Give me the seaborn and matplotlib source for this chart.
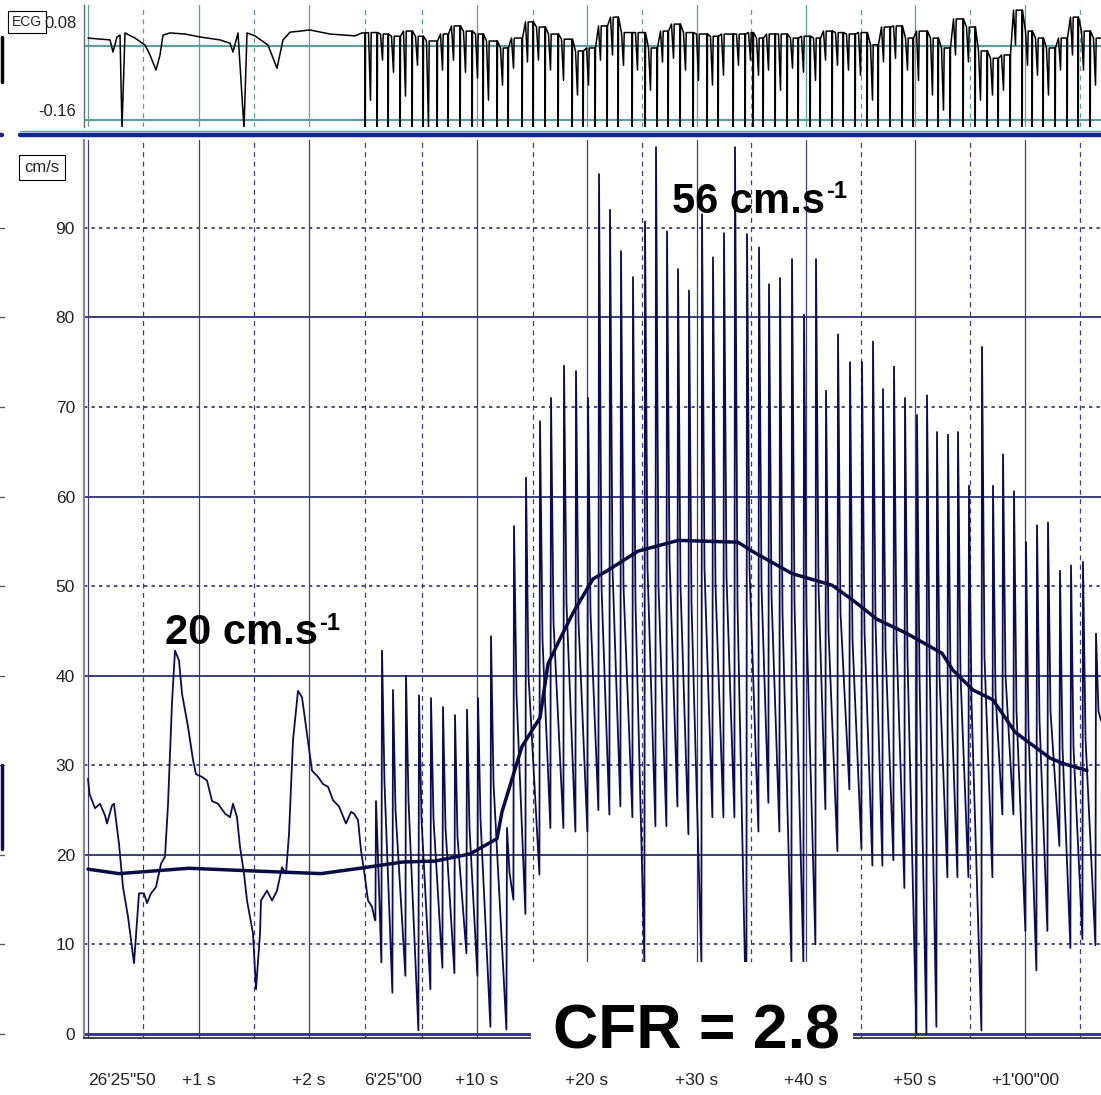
"""
Coronary flow velocity recording: ECG strip + Doppler velocity trace with CFR.
"""
import pandas as pd
import seaborn as sns
import matplotlib.pyplot as plt
from matplotlib.lines import Line2D
from matplotlib.patches import Rectangle
import matplotlib.transforms as mtransforms

# ---------------- data ----------------
# time axis in samples from the first grid line (one division ~ 55 samples)
solid_grid_t = [0, 111, 221, 389, 499, 609, 718, 827, 937]
dashed_grid_t = [55, 166, 277, 334, 445, 554, 663, 773, 882, 992]
label_t = [0, 111, 221, 334, 389, 499, 609, 718, 827, 937]
label_text = ["26'25\"50", "+1 s", "+2 s", "6'25\"00", "+10 s",
              "+20 s", "+30 s", "+40 s", "+50 s", "+1'00\"00"]
label_align = ["left", "center", "center", "right", "center",
               "center", "center", "center", "center", "center"]

# velocity grid (cm/s)
solid_levels = [20, 40, 60, 80]
dotted_levels = [10, 30, 50, 70, 90]

# baseline (slow sweep) Doppler velocity, cm/s
slow_t = [0, 1.5, 7, 12, 17, 19, 24, 26, 31, 35, 40, 46, 51, 56, 59, 63, 68, 73,
          77, 80, 84, 87, 91, 94, 100, 105, 108, 114, 119, 124, 130, 137, 142,
          145, 149, 152, 156, 159, 165, 168, 172, 173, 179, 184, 189, 194, 198,
          201, 205, 210, 214, 219, 224, 230, 235, 240, 245, 251, 258, 263, 266,
          270, 273, 277, 280, 284, 287]
slow_v = [28.5, 26.8, 25.2, 25.7, 24.4, 23.5, 25.5, 25.7, 21.2, 16.4, 13.1, 7.9,
          15.7, 15.7, 14.6, 15.7, 16.4, 19.0, 19.8, 25.6, 37.0, 42.8, 41.7, 38.0,
          34.3, 30.6, 29.0, 28.7, 28.3, 26.0, 25.7, 24.6, 24.2, 25.7, 24.2, 20.9,
          17.9, 14.9, 11.2, 5.0, 11.2, 14.9, 16.0, 14.9, 16.0, 18.6, 17.9, 22.3,
          32.8, 38.3, 37.6, 33.5, 29.4, 28.7, 27.9, 27.6, 26.1, 25.4, 23.5, 24.8,
          24.6, 23.9, 20.5, 17.5, 14.9, 14.2, 12.7]

# fast sweep (hyperaemia) - one entry per beat
beat_t = [288, 294, 305, 318, 331, 343, 355, 367, 379, 390, 403, 419, 426, 438,
          452, 463, 476, 488, 500, 511, 522, 533, 545, 557, 568, 579, 590, 601,
          614, 625, 636, 647, 659, 671, 681, 692, 704, 716, 728, 738, 750, 762,
          774, 785, 795, 806, 817, 829, 839, 849, 860, 870, 881, 894, 905, 915,
          926, 938, 949, 960, 972, 983, 995, 1008]
beat_peak = [26, 42.8, 38.4, 40, 37.8, 37.5, 36.5, 35.6, 36.2, 37.5, 44.4, 23,
             56.7, 62.1, 68.4, 71, 74.6, 74, 71, 96, 92, 87.4, 84.5, 90.7, 99,
             89.6, 85.4, 83, 91.5, 86.7, 89.4, 99, 89.3, 87.8, 83.7, 84.4, 86.5,
             80.3, 86.5, 71.8, 78.1, 75, 75, 77.3, 72, 74.5, 71, 69.1, 71.3, 67.2,
             66.9, 67.2, 61.2, 76.7, 61.2, 64.7, 60.6, 54.9, 56.8, 57.1, 51.7,
             52.3, 52.7, 44.7]
beat_shoulder = [18, 28, 25, 26, 24, 24, 23, 22, 23, 24, 28, 18, 38, 40, 44, 46,
                 48, 46, 47, 50, 52, 50, 48, 52, 50, 53, 50, 48, 52, 50, 51, 48,
                 52, 50, 49, 47, 48, 46, 50, 45, 47, 44, 45, 46, 43, 44, 42, 40,
                 42, 40, 40, 40, 37, 42, 38, 40, 36, 34, 35, 36, 32, 32, 33, 36]
beat_trough = [8, 4.6, 6.5, 0.4, 5, 7.4, 6.8, 9, 6.5, 0.8, 0.5, 15, 13.4, 17.8,
               23, 23, 22.6, 22.6, 25, 24.5, 25.4, 24.2, 8, 23.2, 23.2, 25.4,
               22.3, 8, 24.2, 24.2, 24.2, 0, 22.6, 25.8, 22.6, 8, 8, 10, 25.1,
               20.4, 27.3, 20.7, 18.8, 18.8, 19.4, 16.3, 0, 0, 0.8, 17.5, 17.5,
               17.5, 0.4, 17.5, 24.5, 24.5, 11.5, 7.1, 11.5, 21, 9.6, 10.6, 9.9, 35]

# averaged peak velocity (thick trend line)
mean_t = [0, 31, 101, 165, 233, 272, 315, 347, 382, 409, 414, 434, 452, 460, 472,
          485, 505, 519, 550, 590, 650, 664, 704, 744, 764, 789, 819, 854, 865,
          885, 905, 927, 962, 975, 999]
mean_v = [18.4, 17.9, 18.5, 18.2, 17.9, 18.5, 19.2, 19.3, 20.1, 21.8, 24.8, 32.1,
          35.3, 41.3, 44.1, 47.0, 50.8, 51.7, 53.9, 55.1, 54.9, 53.9, 51.4, 50.1,
          48.5, 46.3, 44.7, 42.5, 40.6, 38.4, 37.3, 33.7, 30.8, 30.2, 29.4]

# ECG (mV) - slow sweep
ecg_slow_t = [0, 22, 25, 29, 32, 34, 37, 47, 57, 62, 68, 72, 75, 82, 97, 112, 132,
              142, 145, 150, 156, 159, 167, 180, 189, 195, 202, 222, 242, 267, 274]
ecg_slow_v = [0.036, 0.031, -0.002, 0.039, 0.044, -0.21, 0.050, 0.036, 0.017,
              -0.010, -0.051, -0.010, 0.044, 0.050, 0.047, 0.039, 0.031, 0.022,
              -0.002, 0.050, -0.21, 0.050, 0.042, 0.017, -0.046, 0.031, 0.052,
              0.058, 0.047, 0.042, 0.050]
# ECG fast sweep: QRS times, baseline level and secondary dip of each beat
qrs_t = [277, 289, 300, 312, 324, 335, 349, 360, 372, 384, 395, 409, 420, 434,
         445, 457, 470, 484, 495, 507, 519, 530, 544, 557, 569, 580, 592, 605,
         619, 630, 645, 657, 665, 675, 687, 699, 710, 722, 732, 744, 755, 767,
         779, 790, 802, 814, 825, 839, 850, 862, 875, 887, 899, 910, 922, 934,
         944, 955, 967, 979, 990, 1002]
ecg_base = [0.051, 0.047, 0.041, 0.055, 0.041, 0.028, 0.047, 0.069, 0.055, 0.047,
            0.028, 0.009, 0.036, 0.080, 0.066, 0.047, 0.033, 0.001, 0.009, 0.069,
            0.093, 0.051, 0.051, 0.009, 0.055, 0.074, 0.051, 0.047, 0.041, 0.047,
            0.047, 0.051, 0.036, 0.047, 0.047, 0.036, 0.041, 0.036, 0.055, 0.051,
            0.047, 0.051, 0.018, 0.066, 0.069, 0.036, 0.055, 0.036, 0.009, 0.088,
            0.066, 0.001, -0.019, -0.010, 0.112, 0.055, 0.036, 0.009, 0.036, 0.093,
            0.055, 0.036]
ecg_dip = [-0.133, -0.024, -0.057, -0.122, -0.038, -0.207, -0.051, -0.024, -0.057,
           -0.073, -0.133, -0.092, -0.046, -0.029, -0.024, -0.051, -0.079, -0.119,
           -0.092, -0.024, -0.010, -0.038, -0.051, -0.106, -0.029, -0.019, -0.051,
           -0.079, -0.092, -0.065, -0.038, -0.024, -0.065, -0.051, -0.106, -0.046,
           -0.057, -0.079, -0.024, -0.038, -0.051, -0.065, -0.133, -0.029, -0.019,
           -0.051, -0.079, -0.119, -0.160, -0.010, -0.029, -0.133, -0.119, -0.106,
           0.017, -0.038, -0.065, -0.119, -0.051, -0.010, -0.051, -0.092]
qrs_low = -0.21
ecg_levels = [0.015, -0.187]

T_MIN, T_MAX = -4, 1013
NAVY = "#0c0c50"
GRID = "#2e2e70"
TEAL = "#5f9ea0"


def build_doppler():
    xs, ys = list(slow_t), list(slow_v)
    prev = slow_v[-1]
    for t, pk, sh, tr in zip(beat_t, beat_peak, beat_shoulder, beat_trough):
        xs += [t - 0.6, t, t + 2.5]
        ys += [prev, pk, sh]
        prev = tr
    xs.append(T_MAX)
    ys.append(prev)
    return pd.DataFrame({"t": xs, "v": ys})


def build_ecg():
    xs, ys = list(ecg_slow_t), list(ecg_slow_v)
    prev = ecg_slow_v[-1]
    for q, b, d in zip(qrs_t, ecg_base, ecg_dip):
        # needle-like QRS, then level, then a partial secondary dip
        xs += [q, q + 0.25, q + 0.5, q + 3.5, q + 5.5, q + 6.2, q + 7.5]
        ys += [prev, qrs_low, prev, b, d, b, b]
        prev = b
    xs.append(T_MAX)
    ys.append(prev)
    return pd.DataFrame({"t": xs, "v": ys})


def main():
    sns.set_style("white")
    plt.rcParams["font.family"] = ["Liberation Sans", "DejaVu Sans"]
    plt.rcParams["font.stretch"] = "condensed"

    W, H = 1101, 1095
    fig = plt.figure(figsize=(W / 100, H / 100), dpi=100)
    ax = fig.add_axes([84 / W, 57 / H, 1017 / W, 898 / H])
    ax_ecg = fig.add_axes([84 / W, (H - 127) / H, 1017 / W, 122 / H])

    # ---------------- ECG strip ----------------
    for lv in ecg_levels:
        ax_ecg.axhline(lv, color=TEAL, lw=1.6, zorder=1)
    for t in solid_grid_t:
        ax_ecg.axvline(t, color=TEAL, lw=0.9, zorder=1)
    for t in dashed_grid_t:
        ax_ecg.axvline(t, color=TEAL, lw=0.9, ls=(0, (4, 3.5)), zorder=1)
    sns.lineplot(data=build_ecg(), x="t", y="v", sort=False, estimator=None,
                 color="black", lw=1.1, ax=ax_ecg, zorder=3)
    ax_ecg.set_xlim(T_MIN, T_MAX)
    ax_ecg.set_ylim(-0.206, 0.126)
    ax_ecg.set_xticks([])
    ax_ecg.set_yticks([0.08, -0.16])
    ax_ecg.set_yticklabels(["0.08", "-0.16"])
    ax_ecg.set_yticks([0.0, -0.08], minor=True)
    ax_ecg.tick_params(axis="y", which="both", direction="out", length=4,
                       width=0.8, color="#444444", pad=1.5, labelsize=12,
                       labelcolor="#222222")
    ax_ecg.set_xlabel("")
    ax_ecg.set_ylabel("")
    for side in ["top", "right", "bottom"]:
        ax_ecg.spines[side].set_visible(False)
    ax_ecg.spines["left"].set_color("#666666")
    ax_ecg.spines["left"].set_linewidth(1.0)

    # ---------------- Doppler velocity ----------------
    for lv in solid_levels:
        ax.axhline(lv, color=GRID, lw=1.3, zorder=1)
    for lv in dotted_levels:
        ax.axhline(lv, color=GRID, lw=1.2, ls=(0, (2, 2.5)), zorder=1)
    ax.axhline(0, color="#3a3a86", lw=2.2, zorder=1)
    for t in solid_grid_t:
        ax.axvline(t, color="#3c3c7c", lw=0.9, zorder=1)
    for t in dashed_grid_t:
        ax.axvline(t, color="#3c3c7c", lw=0.9, ls=(0, (4, 3.5)), zorder=1)

    sns.lineplot(data=build_doppler(), x="t", y="v", sort=False, estimator=None,
                 color=NAVY, lw=1.3, ax=ax, zorder=3)
    sns.lineplot(x=mean_t, y=mean_v, sort=False, estimator=None,
                 color="#0a0a44", lw=2.5, ax=ax, zorder=4)

    ax.set_xlim(T_MIN, T_MAX)
    ax.set_ylim(-0.45, 99.8)
    ax.set_yticks(range(0, 100, 10))
    ax.tick_params(axis="y", direction="out", length=5, width=0.8,
                   color="#444444", pad=1.5, labelsize=12.5, labelcolor="#222222")
    ax.set_xticks(solid_grid_t)
    ax.set_xticklabels([])
    ax.set_xticks(dashed_grid_t, minor=True)
    ax.tick_params(axis="x", which="major", direction="out", length=19,
                   width=1.0, color="#222222")
    ax.tick_params(axis="x", which="minor", direction="out", length=11,
                   width=1.0, color="#222222")
    ax.set_xlabel("")
    ax.set_ylabel("")
    for side in ["top", "right"]:
        ax.spines[side].set_visible(False)
    ax.spines["left"].set_color("#8a8a8a")
    ax.spines["left"].set_linewidth(1.6)
    ax.spines["bottom"].set_color("#222222")
    ax.spines["bottom"].set_linewidth(1.2)

    trans = mtransforms.blended_transform_factory(ax.transData, ax.transAxes)
    for t, txt, ha in zip(label_t, label_text, label_align):
        ax.text(t, -0.047, txt, transform=trans, ha=ha, va="center",
                fontsize=12.5, color="#222222")

    # peak velocity annotations
    for t, v, txt in [(77, 43.5, "20 cm.s"), (584, 91.7, "56 cm.s")]:
        a = ax.text(t, v, txt, fontsize=30, fontweight="bold", fontstretch="normal",
                    ha="left", va="baseline", color="black", zorder=6)
        ax.annotate("-1", xy=(1.0, 1.0), xycoords=a, xytext=(1, 1),
                    textcoords="offset points", ha="left", va="top",
                    fontsize=17, fontweight="bold", fontstretch="normal",
                    color="black", zorder=6)

    # CFR label on a white patch
    ax.add_patch(Rectangle((443, -4.0), 322, 12.0, facecolor="white",
                           edgecolor="none", clip_on=False, zorder=8))
    ax.text(465, -1.6, "CFR = 2.8", fontsize=45, fontweight="bold",
            ha="left", va="baseline", color="black", clip_on=False, zorder=9)

    # channel labels
    box = dict(boxstyle="square,pad=0.3", facecolor="white", edgecolor="black", lw=0.8)
    fig.text(27 / W, 1 - 22 / H, "ECG", fontsize=10, ha="center", va="center",
             bbox=box, zorder=-1)
    fig.text(42 / W, 1 - 167 / H, "cm/s", fontsize=12, ha="center", va="center",
             bbox=box)

    # separator between the two channels
    fig.add_artist(Line2D([20 / W, 1], [1 - 131 / H] * 2, color=TEAL, lw=1.0))
    fig.add_artist(Line2D([20 / W, 1], [1 - 135 / H] * 2, color="#14248c", lw=3.2))
    fig.add_artist(Line2D([0, 2 / W], [1 - 135 / H] * 2, color="#14248c", lw=3.2))

    # remnants of a neighbouring panel on the left edge
    left_trans = mtransforms.blended_transform_factory(fig.transFigure, ax.transData)
    for lv in range(0, 100, 10):
        fig.add_artist(Line2D([0, 4 / W], [lv, lv], transform=left_trans,
                              color="#555577", lw=1.0))
    fig.add_artist(Line2D([1.5 / W] * 2, [20.7, 30], transform=left_trans,
                          color="#0c0c50", lw=2.5))
    fig.add_artist(Line2D([1.5 / W] * 2, [1 - 37 / H, 1 - 82 / H],
                          color="black", lw=2.5))

    fig.savefig("out.png", dpi=100, facecolor="white")


if __name__ == "__main__":
    main()
